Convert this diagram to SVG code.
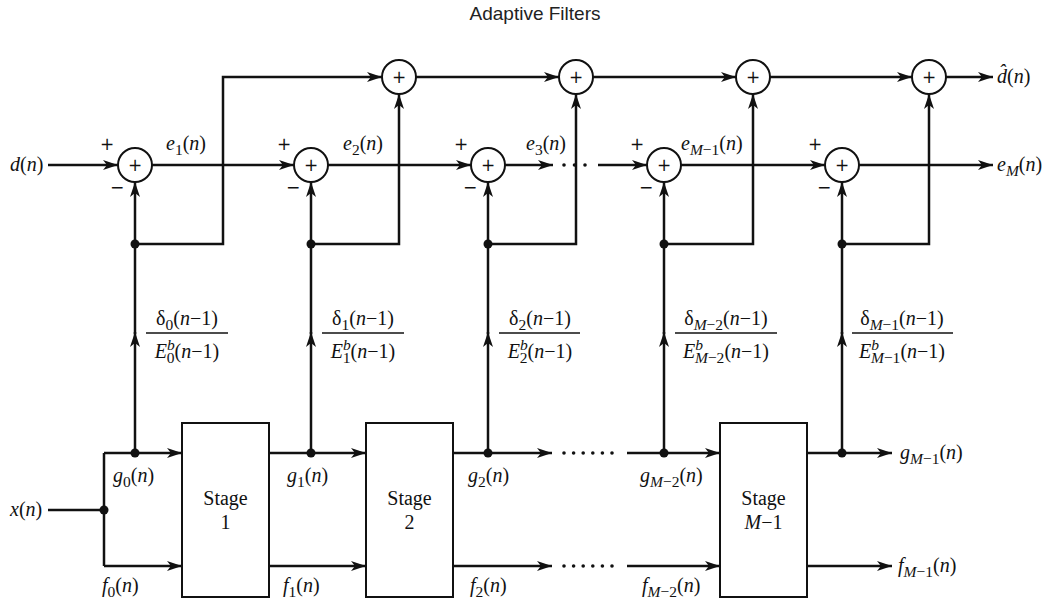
<svg xmlns="http://www.w3.org/2000/svg" width="1046" height="602" viewBox="0 0 1046 602">
<style>
.t{font-family:"Liberation Serif",serif;font-size:20px;fill:#111}
.i{font-style:italic}
.s{font-size:15.5px}
.pm{font-family:"DejaVu Sans",sans-serif;font-size:17px;fill:#111;text-anchor:middle;font-weight:normal}
.ttl{font-family:"Liberation Sans",sans-serif;font-size:19px;fill:#222;text-anchor:middle}
.ln{fill:none;stroke:#111;stroke-width:2.5}
.ar{fill:none;stroke:#111;stroke-width:2.5;marker-end:url(#ah)}
.sum{fill:#fff;stroke:#111;stroke-width:2}
.box{fill:#fff;stroke:#111;stroke-width:2}
.dot{fill:#111}
.bar{stroke:#111;stroke-width:1.5}
</style>
<defs>
<marker id="ah" markerUnits="userSpaceOnUse" markerWidth="16" markerHeight="12" refX="15" refY="6" orient="auto">
<path d="M0,1 L15,6 L0,11 L4,6 z" fill="#111"/>
</marker>
</defs>
<text class="ttl" x="535" y="20">Adaptive Filters</text>

<g id="connectors">
<path class="ar" d="M48,165 H118"/>
<path class="ar" d="M152,165 H294"/>
<path class="ar" d="M328,165 H471"/>
<path class="ar" d="M505,165 H553"/>
<path class="ar" d="M598,165 H647"/>
<path class="ar" d="M681,165 H825"/>
<path class="ar" d="M859,165 H993"/>
<path class="ar" d="M135,244 H223 V77 H382"/>
<path class="ar" d="M416,77 H559"/>
<path class="ar" d="M593,77 H736"/>
<path class="ar" d="M770,77 H912"/>
<path class="ar" d="M946,77 H993"/>
<path class="ar" d="M135,244 V182"/>
<path class="ar" d="M311,244 V182"/>
<path class="ar" d="M488,244 V182"/>
<path class="ar" d="M664,244 V182"/>
<path class="ar" d="M842,244 V182"/>
<path class="ar" d="M311,244 H399 V94"/>
<path class="ar" d="M488,244 H576 V94"/>
<path class="ar" d="M664,244 H753 V94"/>
<path class="ar" d="M842,244 H929 V94"/>
<path class="ar" d="M135,453 V332"/><path class="ln" d="M135,334 V244"/>
<path class="ar" d="M311,453 V332"/><path class="ln" d="M311,334 V244"/>
<path class="ar" d="M488,453 V332"/><path class="ln" d="M488,334 V244"/>
<path class="ar" d="M664,453 V332"/><path class="ln" d="M664,334 V244"/>
<path class="ar" d="M842,453 V332"/><path class="ln" d="M842,334 V244"/>
<path class="ln" d="M48,510 H104"/>
<path class="ln" d="M104,453 V566"/>
<path class="ar" d="M104,453 H182"/>
<path class="ar" d="M104,566 H182"/>
<path class="ar" d="M269,453 H366"/>
<path class="ar" d="M269,566 H366"/>
<path class="ar" d="M453,453 H552"/>
<path class="ar" d="M453,566 H552"/>
<path class="ar" d="M627,453 H720"/>
<path class="ar" d="M627,566 H720"/>
<path class="ar" d="M807,453 H892"/>
<path class="ar" d="M807,566 H892"/>
<g class="dot">
<circle cx="104" cy="510" r="4.5"/>
<circle cx="135" cy="453" r="4.5"/><circle cx="311" cy="453" r="4.5"/><circle cx="488" cy="453" r="4.5"/><circle cx="664" cy="453" r="4.5"/><circle cx="842" cy="453" r="4.5"/>
<circle cx="135" cy="244" r="4.5"/><circle cx="311" cy="244" r="4.5"/><circle cx="488" cy="244" r="4.5"/><circle cx="664" cy="244" r="4.5"/><circle cx="842" cy="244" r="4.5"/>
<circle cx="564" cy="165" r="1.8"/><circle cx="574.5" cy="165" r="1.8"/><circle cx="585" cy="165" r="1.8"/>
<circle cx="564" cy="453" r="1.8"/><circle cx="573.6" cy="453" r="1.8"/><circle cx="583.2" cy="453" r="1.8"/><circle cx="592.8" cy="453" r="1.8"/><circle cx="602.4" cy="453" r="1.8"/><circle cx="612" cy="453" r="1.8"/>
<circle cx="564" cy="566" r="1.8"/><circle cx="573.6" cy="566" r="1.8"/><circle cx="583.2" cy="566" r="1.8"/><circle cx="592.8" cy="566" r="1.8"/><circle cx="602.4" cy="566" r="1.8"/><circle cx="612" cy="566" r="1.8"/>
</g>
</g>

<g id="sum1"><circle class="sum" cx="135" cy="165" r="17"/><text class="pm" x="135" y="171">+</text><text class="pm" x="107" y="150">+</text><text class="pm" x="117" y="193">−</text></g>
<g id="sum2"><circle class="sum" cx="311" cy="165" r="17"/><text class="pm" x="311" y="171">+</text><text class="pm" x="284" y="150">+</text><text class="pm" x="293" y="193">−</text></g>
<g id="sum3"><circle class="sum" cx="488" cy="165" r="17"/><text class="pm" x="488" y="171">+</text><text class="pm" x="461" y="150">+</text><text class="pm" x="470" y="193">−</text></g>
<g id="sum4"><circle class="sum" cx="664" cy="165" r="17"/><text class="pm" x="664" y="171">+</text><text class="pm" x="637" y="150">+</text><text class="pm" x="646" y="193">−</text></g>
<g id="sum5"><circle class="sum" cx="842" cy="165" r="17"/><text class="pm" x="842" y="171">+</text><text class="pm" x="815" y="150">+</text><text class="pm" x="824" y="193">−</text></g>
<g id="add1"><circle class="sum" cx="399" cy="77" r="17"/><text class="pm" x="399" y="83">+</text></g>
<g id="add2"><circle class="sum" cx="576" cy="77" r="17"/><text class="pm" x="576" y="83">+</text></g>
<g id="add3"><circle class="sum" cx="753" cy="77" r="17"/><text class="pm" x="753" y="83">+</text></g>
<g id="add4"><circle class="sum" cx="929" cy="77" r="17"/><text class="pm" x="929" y="83">+</text></g>

<g id="stage1"><rect class="box" x="182" y="423" width="87" height="174"/><text class="t" x="225.5" y="505" text-anchor="middle">Stage</text><text class="t" x="225.5" y="529" text-anchor="middle">1</text></g>
<g id="stage2"><rect class="box" x="366" y="423" width="87" height="174"/><text class="t" x="409.5" y="505" text-anchor="middle">Stage</text><text class="t" x="409.5" y="529" text-anchor="middle">2</text></g>
<g id="stageM1"><rect class="box" x="720" y="423" width="87" height="174"/><text class="t" x="763.5" y="505" text-anchor="middle">Stage</text><text class="t" x="763.5" y="529" text-anchor="middle"><tspan class="i">M</tspan>−1</text></g>

<g id="labels">
<text class="t" x="10" y="171"><tspan class="i">d</tspan>(<tspan class="i">n</tspan>)</text>
<text class="t" x="10" y="516"><tspan class="i">x</tspan>(<tspan class="i">n</tspan>)</text>
<text class="t" x="166" y="150"><tspan class="i">e</tspan><tspan class="s" dy="5">1</tspan><tspan dy="-5">(</tspan><tspan class="i">n</tspan>)</text>
<text class="t" x="343" y="150"><tspan class="i">e</tspan><tspan class="s" dy="5">2</tspan><tspan dy="-5">(</tspan><tspan class="i">n</tspan>)</text>
<text class="t" x="526" y="150"><tspan class="i">e</tspan><tspan class="s" dy="5">3</tspan><tspan dy="-5">(</tspan><tspan class="i">n</tspan>)</text>
<text class="t" x="681" y="150"><tspan class="i">e</tspan><tspan class="s" dy="5"><tspan class="i">M</tspan>−1</tspan><tspan dy="-5">(</tspan><tspan class="i">n</tspan>)</text>
<text class="t" x="997" y="83"><tspan class="i">d̂</tspan>(<tspan class="i">n</tspan>)</text>
<text class="t" x="997" y="171"><tspan class="i">e</tspan><tspan class="s i" dy="5">M</tspan><tspan dy="-5">(</tspan><tspan class="i">n</tspan>)</text>
<text class="t" x="113" y="482"><tspan class="i">g</tspan><tspan class="s" dy="5">0</tspan><tspan dy="-5">(</tspan><tspan class="i">n</tspan>)</text>
<text class="t" x="102" y="592"><tspan class="i">f</tspan><tspan class="s" dy="5">0</tspan><tspan dy="-5">(</tspan><tspan class="i">n</tspan>)</text>
<text class="t" x="287" y="482"><tspan class="i">g</tspan><tspan class="s" dy="5">1</tspan><tspan dy="-5">(</tspan><tspan class="i">n</tspan>)</text>
<text class="t" x="283" y="592"><tspan class="i">f</tspan><tspan class="s" dy="5">1</tspan><tspan dy="-5">(</tspan><tspan class="i">n</tspan>)</text>
<text class="t" x="468" y="482"><tspan class="i">g</tspan><tspan class="s" dy="5">2</tspan><tspan dy="-5">(</tspan><tspan class="i">n</tspan>)</text>
<text class="t" x="470" y="592"><tspan class="i">f</tspan><tspan class="s" dy="5">2</tspan><tspan dy="-5">(</tspan><tspan class="i">n</tspan>)</text>
<text class="t" x="640" y="482"><tspan class="i">g</tspan><tspan class="s" dy="5"><tspan class="i">M</tspan>−2</tspan><tspan dy="-5">(</tspan><tspan class="i">n</tspan>)</text>
<text class="t" x="642" y="592"><tspan class="i">f</tspan><tspan class="s" dy="5"><tspan class="i">M</tspan>−2</tspan><tspan dy="-5">(</tspan><tspan class="i">n</tspan>)</text>
<text class="t" x="900" y="459"><tspan class="i">g</tspan><tspan class="s" dy="5"><tspan class="i">M</tspan>−1</tspan><tspan dy="-5">(</tspan><tspan class="i">n</tspan>)</text>
<text class="t" x="898" y="572"><tspan class="i">f</tspan><tspan class="s" dy="5"><tspan class="i">M</tspan>−1</tspan><tspan dy="-5">(</tspan><tspan class="i">n</tspan>)</text>
</g>

<g id="frac0"><line class="bar" x1="146" y1="333" x2="228" y2="333"/>
<text class="t" x="187" y="325" text-anchor="middle">δ<tspan class="s" dy="5">0</tspan><tspan dy="-5">(</tspan><tspan class="i">n</tspan>−1)</text>
<text class="t" x="187" y="358" text-anchor="middle"><tspan class="i">E</tspan><tspan class="s i" dy="-8">b</tspan><tspan class="s" dx="-8" dy="13">0</tspan><tspan dy="-5">(</tspan><tspan class="i">n</tspan>−1)</text></g>
<g id="frac1"><line class="bar" x1="322" y1="333" x2="404" y2="333"/>
<text class="t" x="363" y="325" text-anchor="middle">δ<tspan class="s" dy="5">1</tspan><tspan dy="-5">(</tspan><tspan class="i">n</tspan>−1)</text>
<text class="t" x="363" y="358" text-anchor="middle"><tspan class="i">E</tspan><tspan class="s i" dy="-8">b</tspan><tspan class="s" dx="-8" dy="13">1</tspan><tspan dy="-5">(</tspan><tspan class="i">n</tspan>−1)</text></g>
<g id="frac2"><line class="bar" x1="499" y1="333" x2="580" y2="333"/>
<text class="t" x="540" y="325" text-anchor="middle">δ<tspan class="s" dy="5">2</tspan><tspan dy="-5">(</tspan><tspan class="i">n</tspan>−1)</text>
<text class="t" x="540" y="358" text-anchor="middle"><tspan class="i">E</tspan><tspan class="s i" dy="-8">b</tspan><tspan class="s" dx="-8" dy="13">2</tspan><tspan dy="-5">(</tspan><tspan class="i">n</tspan>−1)</text></g>
<g id="frac3"><line class="bar" x1="675" y1="333" x2="777" y2="333"/>
<text class="t" x="726" y="325" text-anchor="middle">δ<tspan class="s" dy="5"><tspan class="i">M</tspan>−2</tspan><tspan dy="-5">(</tspan><tspan class="i">n</tspan>−1)</text>
<text class="t" x="726" y="358" text-anchor="middle"><tspan class="i">E</tspan><tspan class="s i" dy="-8">b</tspan><tspan class="s" dx="-8" dy="13"><tspan class="i">M</tspan>−2</tspan><tspan dy="-5">(</tspan><tspan class="i">n</tspan>−1)</text></g>
<g id="frac4"><line class="bar" x1="852" y1="333" x2="953" y2="333"/>
<text class="t" x="902" y="325" text-anchor="middle">δ<tspan class="s" dy="5"><tspan class="i">M</tspan>−1</tspan><tspan dy="-5">(</tspan><tspan class="i">n</tspan>−1)</text>
<text class="t" x="902" y="358" text-anchor="middle"><tspan class="i">E</tspan><tspan class="s i" dy="-8">b</tspan><tspan class="s" dx="-8" dy="13"><tspan class="i">M</tspan>−1</tspan><tspan dy="-5">(</tspan><tspan class="i">n</tspan>−1)</text></g>
</svg>
